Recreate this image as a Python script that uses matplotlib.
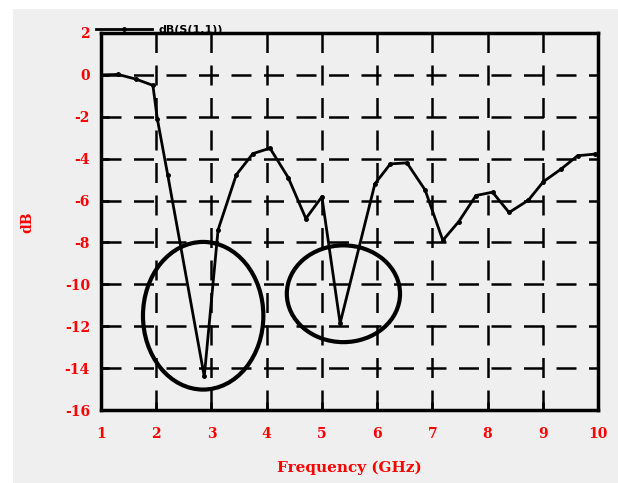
import matplotlib
matplotlib.use("Agg")
import matplotlib.pyplot as plt
from matplotlib.patches import Ellipse, Rectangle

plt.rcParams["axes.unicode_minus"] = False

freq = [1.0, 1.31, 1.63, 1.94, 2.02, 2.21, 2.87, 3.12, 3.45, 3.75, 4.06, 4.39,
        4.71, 5.0, 5.33, 5.96, 6.24, 6.54, 6.87, 7.19, 7.48, 7.79, 8.09, 8.39,
        8.74, 9.01, 9.33, 9.63, 9.95]
s11_db = [0.0, 0.02, -0.2, -0.5, -2.1, -4.8, -14.4, -7.4, -4.77, -3.76, -3.5, -4.9,
          -6.86, -5.82, -11.86, -5.2, -4.25, -4.2, -5.5, -7.9, -7.0, -5.76, -5.6, -6.57,
          -5.98, -5.1, -4.5, -3.86, -3.78]
x_ticks = [1, 2, 3, 4, 5, 6, 7, 8, 9, 10]
y_ticks = [2, 0, -2, -4, -6, -8, -10, -12, -14, -16]
# highlighted regions: (center f, center dB, width GHz, height dB)
ellipses = [(2.85, -11.5, 2.18, 7.05), (5.39, -10.45, 2.05, 4.62)]
series_label = "dB(S(1,1))"

fig = plt.figure(figsize=(6.18, 4.83), dpi=100)
fig.patch.set_facecolor("#efefef")
# white margin strips at top and left
fig.patches.append(Rectangle((0, 0), 13 / 618, 1, transform=fig.transFigure,
                             facecolor="white", edgecolor="none", zorder=-10))
fig.patches.append(Rectangle((0, 1 - 9 / 483), 1, 9 / 483, transform=fig.transFigure,
                             facecolor="white", edgecolor="none", zorder=-10))

ax = fig.add_axes([101 / 618, 1 - 410 / 483, (598 - 101) / 618, (410 - 33) / 483])
ax.set_facecolor("#efefef")

ax.plot(freq, s11_db, color="black", lw=2, marker="o", ms=2.5, label=series_label)

for cx, cy, w, h in ellipses:
    ax.add_patch(Ellipse((cx, cy), w, h, fill=False, edgecolor="black", lw=3, zorder=5))

ax.set_xlim(1, 10)
ax.set_ylim(-16, 2)
ax.set_xticks(x_ticks)
ax.set_yticks(y_ticks)
ax.grid(True, color="black", lw=1.8, linestyle=(0, (8, 5)))
ax.tick_params(direction="in", length=6, width=1.8, colors="black",
               labelcolor="red", labelsize=10)
for lab in ax.get_xticklabels() + ax.get_yticklabels():
    lab.set_fontweight("bold")
    lab.set_family("DejaVu Serif")
ax.tick_params(axis="x", pad=12)
ax.tick_params(axis="y", pad=8)
for sp in ax.spines.values():
    sp.set_linewidth(2.5)

ax.set_xlabel("Frequency (GHz)", color="red", fontweight="bold", fontsize=11,
              family="DejaVu Serif", labelpad=14)
fig.text(27 / 618, 1 - 222 / 483, "dB", color="red", fontweight="bold", fontsize=10,
         rotation=90, ha="center", va="center", family="DejaVu Serif")

leg = ax.legend(loc="lower left", bbox_to_anchor=(-0.01, 0.995), frameon=False,
                fontsize=8, handlelength=5, borderpad=0, borderaxespad=0,
                handletextpad=0.6)
for t in leg.get_texts():
    t.set_fontweight("bold")

fig.savefig("out.png", dpi=100, facecolor=fig.get_facecolor())
